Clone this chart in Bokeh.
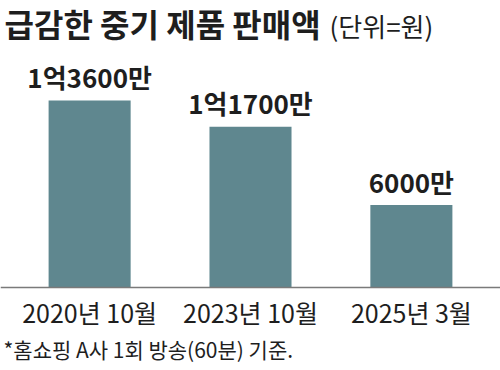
from bokeh.plotting import figure
from bokeh.models import ColumnDataSource, FactorRange, Range1d, Label, Span
from bokeh.core.properties import value
from bokeh.embed import file_html
from bokeh.resources import INLINE

categories = ["2020년 10월", "2023년 10월", "2025년 3월"]
values = [13600, 11700, 6000]
value_labels = ["1억3600만", "1억1700만", "6000만"]
title_main = "급감한 중기 제품 판매액"
title_unit = "(단위=원)"
footnote = "*홈쇼핑 A사 1회 방송(60분) 기준."

FONT = "Noto Sans CJK KR"
W, H = 500, 370
base_px = 287.0          # baseline position from top of canvas
px_per_unit = 187.0 / 13600.0
y_start = -(H - base_px) / px_per_unit
y_end = base_px / px_per_unit

src = ColumnDataSource(dict(cat=categories, val=values, lab=value_labels))

p = figure(width=W, height=H, x_range=FactorRange(*categories, range_padding=0.054,
                                                  range_padding_units="absolute"),
           y_range=Range1d(y_start, y_end), output_backend="svg", toolbar_location=None,
           min_border=0, min_border_left=0, min_border_right=0, min_border_top=0,
           min_border_bottom=0)
p.axis.visible = False
p.grid.visible = False
p.outline_line_color = None
p.background_fill_color = "white"
p.border_fill_color = "white"

p.vbar(x="cat", top="val", bottom=0, width=0.51, source=src, fill_color="#5f878f",
       line_color=None)

p.add_layout(Span(location=0, dimension="width", line_color="#7a7a7a", line_width=1.5))

p.text(x="cat", y="val", text="lab", source=src, text_font=value(FONT),
       text_font_style="bold", text_font_size="26px", text_color="#1e1e1e",
       text_align="center", text_baseline="middle", y_offset=-24)

p.text(x="cat", y=0, text="cat", source=src, text_font=value(FONT),
       text_font_size="25px", text_color="#1e1e1e", text_align="center",
       text_baseline="middle", y_offset=24)

p.add_layout(Label(x=4, y=H - 22, x_units="screen", y_units="screen", text=title_main,
                   text_font=FONT, text_font_style="bold", text_font_size="32px",
                   text_color="#1e1e1e", text_baseline="middle"))
p.add_layout(Label(x=329, y=H - 25, x_units="screen", y_units="screen", text=title_unit,
                   text_font=FONT, text_font_size="26px", text_color="#1e1e1e",
                   text_baseline="middle"))
p.add_layout(Label(x=3, y=H - 348, x_units="screen", y_units="screen", text=footnote,
                   text_font=FONT, text_font_size="21px", text_color="#1e1e1e",
                   text_baseline="middle"))

open("out.html", "w").write(file_html(p, INLINE))
